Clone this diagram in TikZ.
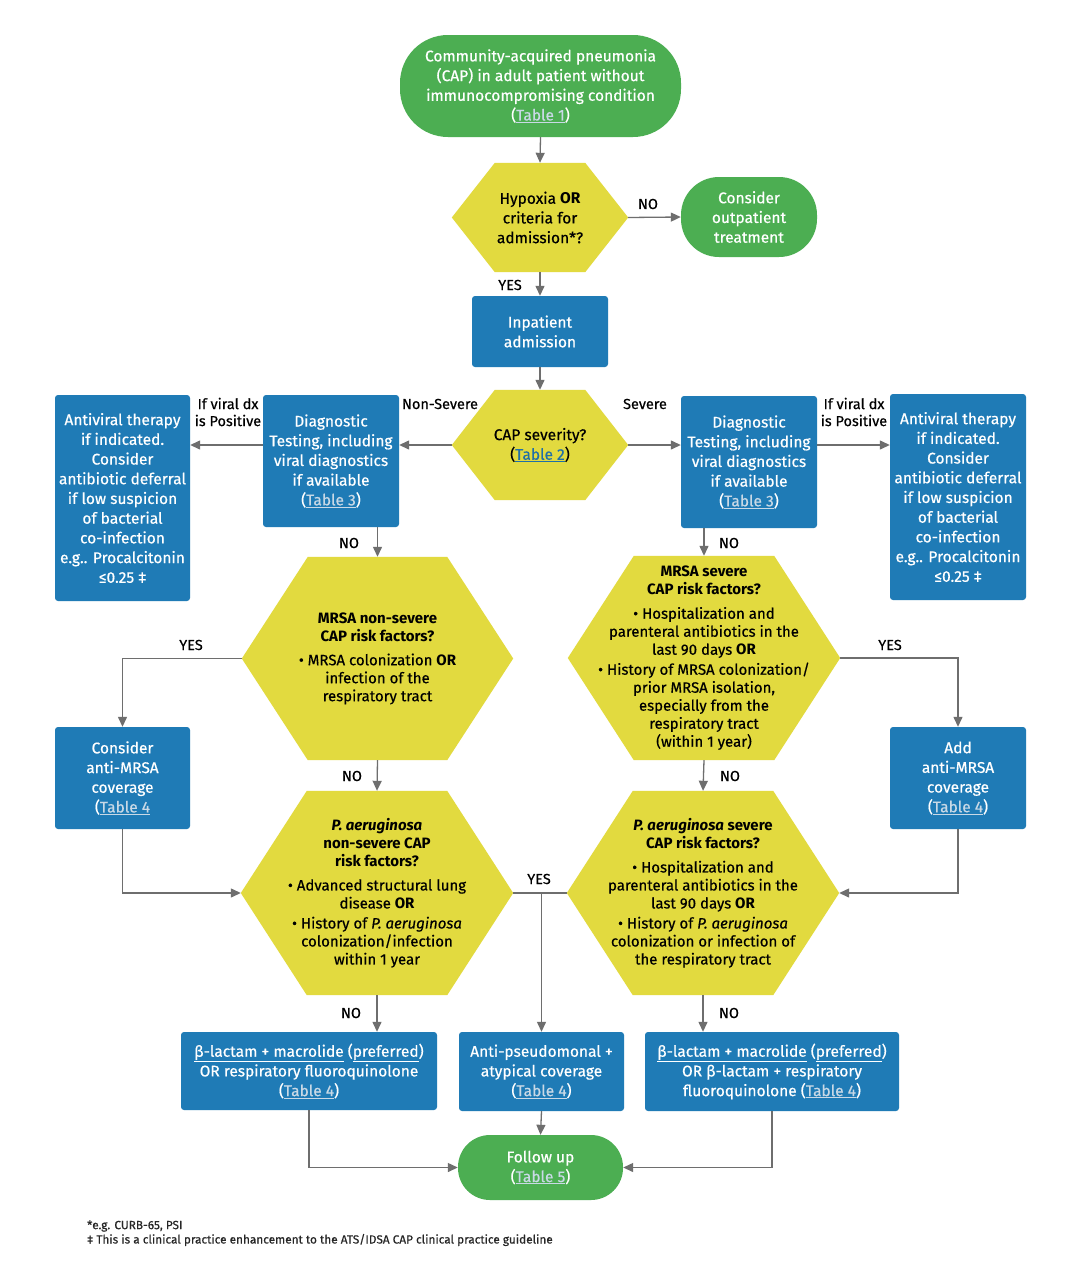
\documentclass[tikz,border=0pt]{standalone}
\usepackage{fontspec}
\setmainfont{Fira Sans}[UprightFeatures={FakeBold=0.5},ItalicFeatures={FakeBold=0.5}]
\usetikzlibrary{arrows.meta,backgrounds}
\definecolor{cgreen}{HTML}{4CAE52}
\definecolor{cblue}{HTML}{1F7BB6}
\definecolor{cyellow}{HTML}{E2DA3F}
\definecolor{carrow}{HTML}{6E6E6E}
\definecolor{clink}{HTML}{C9D9E6}
\definecolor{clinky}{HTML}{1F6FA8}
\newcommand{\tl}[1]{{\color{clink}\underline{#1}}}
\newcommand{\hexfill}[2]{%
  \fill[cyellow] (#1.west) -- ([xshift=#2]#1.north west) -- ([xshift=-#2]#1.north east)
    -- (#1.east) -- ([xshift=-#2]#1.south east) -- ([xshift=#2]#1.south west) -- cycle;}
\tikzset{
  box/.style={fill=cblue, rounded corners=3pt, text=white, align=center, inner sep=0pt,
    font=\fontsize{15.5}{19.7}\selectfont},
  pill/.style={fill=cgreen, text=white, align=center, inner sep=0pt,
    font=\fontsize{15.5}{19.7}\selectfont},
  hexa/.style={align=center, inner sep=0pt, text=black,
    font=\fontsize{15}{18}\selectfont},
  arr/.style={draw=carrow, line width=1.3pt, -{Triangle[length=10pt,width=9pt]}},
  ln/.style={draw=carrow, line width=1.3pt},
  lab/.style={font=\fontsize{14.5}{17}\selectfont, align=center, text=black, inner sep=0pt},
  foot/.style={font=\fontsize{11.8}{14}\selectfont, text=black!85, anchor=west, inner sep=0pt},
}
\begin{document}
\begin{tikzpicture}[x=1pt,y=-1pt]
\useasboundingbox (0,0) rectangle (1089,1261);

% ---------- nodes ----------
\node[pill, minimum width=281pt, minimum height=102pt, rounded corners=48pt] (start) at (540.5,86)
  {Community-acquired pneumonia\\(CAP) in adult patient without\\immunocompromising condition\\(\tl{Table 1})};
\node[hexa, font=\fontsize{15.5}{19.7}\selectfont, minimum width=176pt, minimum height=109pt] (hyp) at (540,217.5)
  {Hypoxia \textbf{OR}\\criteria for\\admission*?};
\node[pill, minimum width=136pt, minimum height=80pt, rounded corners=38pt] (outp) at (749,217)
  {Consider\\outpatient\\treatment};
\node[box, minimum width=136pt, minimum height=71pt] (inp) at (540,331.5) {Inpatient\\admission};
\node[hexa, font=\fontsize{15.5}{19.7}\selectfont, minimum width=176pt, minimum height=110pt] (sev) at (540,445)
  {CAP severity?\\(\textcolor{clinky}{\underline{Table 2}})};
\node[box, minimum width=136pt, minimum height=132pt] (diagL) at (331,461)
  {Diagnostic\\Testing, including\\viral diagnostics\\if available\\(\tl{Table 3})};
\node[box, minimum width=136pt, minimum height=132pt] (diagR) at (749,462)
  {Diagnostic\\Testing, including\\viral diagnostics\\if available\\(\tl{Table 3})};
\node[box, minimum width=135pt, minimum height=206pt] (avL) at (122.5,498)
  {Antiviral therapy\\if indicated.\\Consider\\antibiotic deferral\\if low suspicion\\of bacterial\\co-infection\\e.g.. Procalcitonin\\≤0.25 ‡};
\node[box, minimum width=136pt, minimum height=206pt] (avR) at (958,497)
  {Antiviral therapy\\if indicated.\\Consider\\antibiotic deferral\\if low suspicion\\of bacterial\\co-infection\\e.g.. Procalcitonin\\≤0.25 ‡};
\node[hexa, minimum width=271pt, minimum height=203pt] (mrsaL) at (377.5,658.5)
  {\textbf{MRSA non-severe}\\\textbf{CAP risk factors?}\\[6pt]• MRSA colonization \textbf{OR}\\infection of the\\respiratory tract};
\node[hexa, minimum width=272pt, minimum height=204pt] (mrsaR) at (704,658)
  {\textbf{MRSA severe}\\\textbf{CAP risk factors?}\\[6pt]• Hospitalization and\\parenteral antibiotics in the\\last 90 days \textbf{OR}\\[2pt]• History of MRSA colonization/\\prior MRSA isolation,\\especially from the\\respiratory tract\\(within 1 year)};
\node[box, minimum width=135pt, minimum height=102pt] (camrsa) at (122.5,778)
  {Consider\\anti-MRSA\\coverage\\(\tl{Table 4}};
\node[box, minimum width=136pt, minimum height=102pt] (addmrsa) at (958,778)
  {Add\\anti-MRSA\\coverage\\(\tl{Table 4})};
\node[hexa, minimum width=272pt, minimum height=204pt] (paL) at (377,893)
  {\textbf{\textit{P. aeruginosa}}\\\textbf{non-severe CAP}\\\textbf{risk factors?}\\[6pt]• Advanced structural lung\\disease \textbf{OR}\\[2pt]• History of \textit{P. aeruginosa}\\colonization/infection\\within 1 year};
\node[hexa, minimum width=272pt, minimum height=204pt] (paR) at (703,893)
  {\textbf{\textit{P. aeruginosa} severe}\\\textbf{CAP risk factors?}\\[6pt]• Hospitalization and\\parenteral antibiotics in the\\last 90 days \textbf{OR}\\[2pt]• History of \textit{P. aeruginosa}\\colonization or infection of\\the respiratory tract};
\node[box, minimum width=256pt, minimum height=78pt] (b1) at (309,1071)
  {\underline{β-lactam + macrolide} (\underline{preferred})\\OR respiratory fluoroquinolone\\(\tl{Table 4})};
\node[box, minimum width=165pt, minimum height=79pt] (b2) at (541.5,1071.5)
  {Anti-pseudomonal +\\atypical coverage\\(\tl{Table 4})};
\node[box, minimum width=254pt, minimum height=79pt] (b3) at (772,1071.5)
  {\underline{β-lactam + macrolide} (\underline{preferred})\\OR β-lactam + respiratory\\fluoroquinolone (\tl{Table 4})};
\node[pill, minimum width=165pt, minimum height=65pt, rounded corners=32pt] (fu) at (540.5,1167.5)
  {Follow up\\(\tl{Table 5})};

\begin{pgfonlayer}{background}
  \fill[white] (0,0) rectangle (1089,1261);
  \hexfill{hyp}{43pt}
  \hexfill{sev}{43pt}
  \hexfill{mrsaL}{66pt}
  \hexfill{mrsaR}{66pt}
  \hexfill{paL}{66pt}
  \hexfill{paR}{66pt}
\end{pgfonlayer}

% ---------- connectors ----------
\draw[arr] (start.south) -- (hyp.north);
\draw[arr] (hyp.east) -- (outp.west);
\draw[arr] (hyp.south) -- (inp.north);
\draw[arr] (inp.south) -- (sev.north);
\draw[arr] (sev.west) -- (sev.west -| diagL.east);
\draw[arr] (diagL.west |- sev.west) -- (avL.east |- sev.west);
\draw[arr] (sev.east) -- (sev.east -| diagR.west);
\draw[arr] (diagR.east |- sev.east) -- (avR.west |- sev.east);
\draw[arr] (diagL.south -| mrsaL.north) -- (mrsaL.north);
\draw[arr] (diagR.south -| mrsaR.north) -- (mrsaR.north);
\draw[arr] (mrsaL.west) -| (camrsa.north);
\draw[arr] (camrsa.south) |- (paL.west);
\draw[arr] (mrsaR.east) -| (addmrsa.north);
\draw[arr] (addmrsa.south) |- (paR.east);
\draw[arr] (mrsaL.south) -- (paL.north);
\draw[arr] (mrsaR.south) -- (paR.north);
\draw[ln] (paL.east) -- (paR.west);
\coordinate (mid) at (b2.north |- paL.east);
\draw[arr] (mid) -- (b2.north);
\draw[arr] (paL.south) -- (paL.south |- b1.north);
\draw[arr] (paR.south) -- (paR.south |- b3.north);
\draw[arr] (b1.south) |- (fu.west);
\draw[arr] (b2.south) -- (fu.north);
\draw[arr] (b3.south) |- (fu.east);

% ---------- labels ----------
\node[lab] (lno1) at (648,204) {NO};
\node[lab] (lyes1) at (510,285) {YES};
\node[lab] (lns) at (440,404) {Non-Severe};
\node[lab] (lsv) at (645,404) {Severe};
\node[lab] (lvL) at (228,412) {If viral dx\\is Positive};
\node[lab] (lvR) at (854,412) {If viral dx\\is Positive};
\node[lab] (lno2) at (349,543) {NO};
\node[lab] (lno3) at (729,543) {NO};
\node[lab] (lyes2) at (191,645) {YES};
\node[lab] (lyes3) at (890,645) {YES};
\node[lab] (lno4) at (352,776) {NO};
\node[lab] (lno5) at (730,776) {NO};
\node[lab] (lyes4) at (539,879) {YES};
\node[lab] (lno6) at (351,1013) {NO};
\node[lab] (lno7) at (729,1013) {NO};

\node[foot] (f1) at (87,1226) {*e.g. CURB-65, PSI};
\node[foot] (f2) at (87,1240) {‡ This is a clinical practice enhancement to the ATS/IDSA CAP clinical practice guideline};
\end{tikzpicture}
\end{document}
